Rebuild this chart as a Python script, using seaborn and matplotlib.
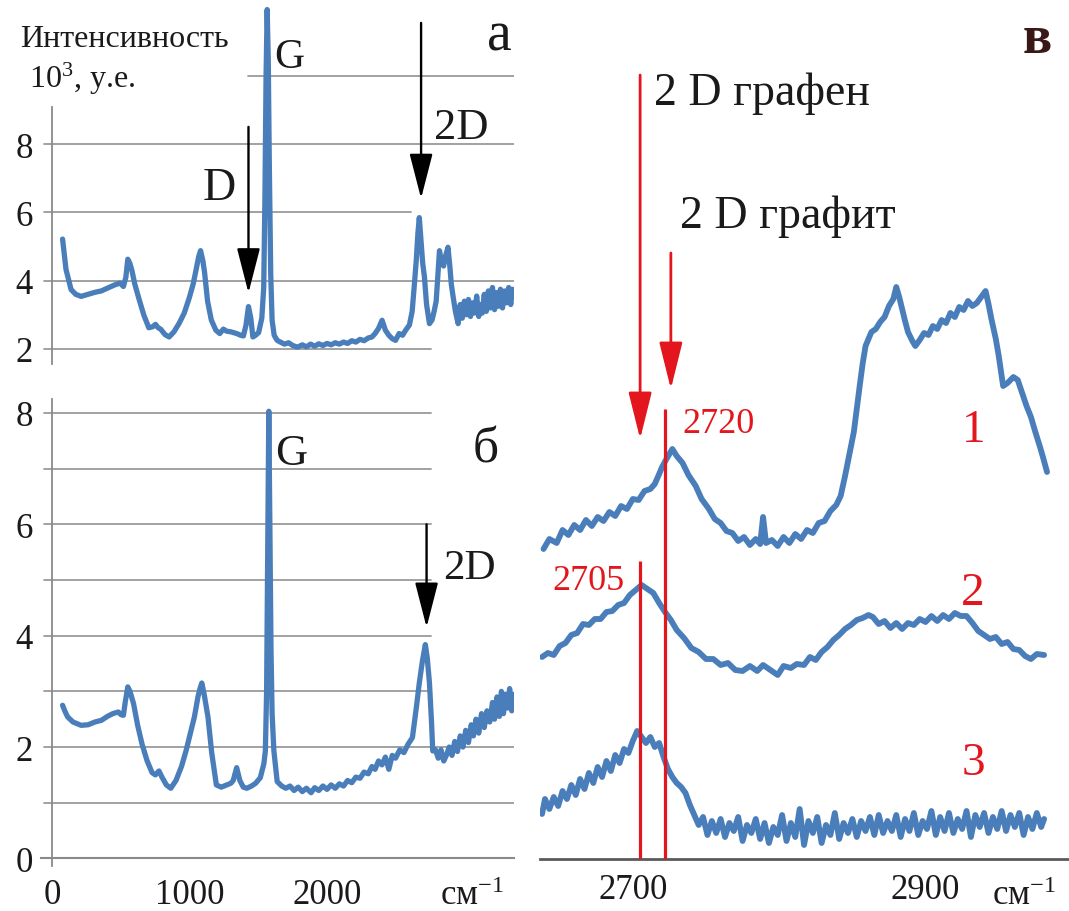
import matplotlib
matplotlib.use("Agg")
import matplotlib.pyplot as plt
import seaborn as sns
import pandas as pd

# ---------------- data ----------------
# panel a: Raman spectrum, wavenumber (cm-1) vs intensity (10^3 a.u.)
a_x = [74, 99, 136, 170, 209, 260, 310, 357, 400, 456, 493, 517, 535, 549, 565, 579, 600, 628, 665, 702,
       730, 751, 770, 788, 820, 850, 885, 923, 960, 997, 1025, 1047, 1065, 1079, 1095, 1108, 1130, 1157, 1190, 1219,
       1245, 1268, 1300, 1342, 1370, 1391, 1410, 1428, 1445, 1460, 1480, 1502, 1525, 1539, 1548, 1556, 1564, 1572, 1580, 1590,
       1600, 1615, 1637, 1660, 1690, 1720, 1750, 1785, 1820, 1850, 1880, 1910, 1940, 1970, 2000, 2030, 2060, 2090, 2120, 2150,
       2180, 2210, 2240, 2270, 2300, 2327, 2350, 2375, 2401, 2425, 2450, 2475, 2499, 2525, 2550, 2573, 2600, 2620, 2635, 2650,
       2662, 2672, 2684, 2697, 2709, 2725, 2746, 2765, 2780, 2795, 2808, 2819, 2834, 2849, 2865, 2881, 2895, 2905, 2918, 2935,
       2955, 2970, 2985, 3000, 3016, 3030, 3045, 3060, 3075, 3090, 3105, 3115, 3130, 3145, 3160, 3175, 3189, 3205, 3220, 3235,
       3250, 3263, 3278, 3293, 3308, 3323, 3338, 3350, 3361]
a_y = [5.22, 4.33, 3.74, 3.60, 3.54, 3.60, 3.66, 3.70, 3.78, 3.88, 3.93, 3.83, 4.10, 4.63, 4.50, 4.30, 3.90, 3.50, 3.00, 2.62,
       2.65, 2.72, 2.62, 2.58, 2.42, 2.35, 2.50, 2.75, 3.05, 3.50, 3.90, 4.33, 4.70, 4.88, 4.60, 4.25, 3.40, 2.85, 2.55, 2.45,
       2.58, 2.52, 2.50, 2.45, 2.40, 2.38, 2.70, 3.24, 2.90, 2.35, 2.40, 2.48, 2.90, 3.80, 6.50, 10.0, 11.95, 10.5, 7.30, 4.20,
       2.84, 2.40, 2.25, 2.20, 2.14, 2.18, 2.10, 2.05, 2.12, 2.06, 2.14, 2.08, 2.15, 2.10, 2.16, 2.12, 2.18, 2.14, 2.20, 2.16,
       2.24, 2.20, 2.28, 2.24, 2.32, 2.35, 2.45, 2.60, 2.84, 2.55, 2.40, 2.30, 2.25, 2.45, 2.40, 2.55, 2.70, 3.10, 3.83, 4.60,
       5.40, 5.85, 5.20, 4.50, 4.13, 3.30, 2.74, 2.85, 3.10, 3.40, 4.20, 4.88, 4.55, 4.43, 4.75, 4.98, 4.40, 3.90, 3.54, 3.10,
       2.74, 3.30, 2.90, 3.40, 3.00, 3.45, 2.95, 3.35, 3.05, 3.55, 2.95, 3.30, 3.05, 3.60, 3.10, 3.70, 3.20, 3.80, 3.15, 3.65,
       3.25, 3.75, 3.20, 3.70, 3.35, 3.80, 3.30, 3.75, 3.55]

# panel b: second spectrum
b_x = [74, 90, 111, 150, 209, 260, 310, 357, 400, 440, 480, 500, 517, 530, 549, 565, 591, 620, 653, 690,
       726, 750, 776, 800, 830, 862, 900, 940, 973, 1005, 1034, 1060, 1075, 1088, 1105, 1133, 1160, 1194, 1230, 1270,
       1300, 1317, 1342, 1365, 1390, 1416, 1450, 1480, 1514, 1540, 1551, 1560, 1568, 1576, 1584, 1592, 1600, 1613, 1637, 1670,
       1700, 1730, 1760, 1790, 1820, 1850, 1884, 1910, 1940, 1970, 2000, 2030, 2060, 2090, 2120, 2150, 2180, 2210, 2240, 2270,
       2300, 2327, 2350, 2375, 2400, 2425, 2450, 2475, 2499, 2530, 2560, 2590, 2622, 2650, 2672, 2695, 2716, 2730, 2746, 2760,
       2770, 2790, 2810, 2830, 2850, 2869, 2890, 2910, 2930, 2950, 2970, 2990, 3010, 3030, 3050, 3066, 3085, 3105, 3125, 3145,
       3165, 3185, 3205, 3220, 3238, 3255, 3270, 3285, 3300, 3315, 3330, 3345, 3361]
b_y = [2.75, 2.65, 2.54, 2.45, 2.39, 2.40, 2.45, 2.48, 2.55, 2.60, 2.63, 2.58, 2.57, 2.80, 3.08, 3.00, 2.78, 2.40, 2.05, 1.75,
       1.54, 1.50, 1.57, 1.45, 1.32, 1.26, 1.40, 1.65, 1.93, 2.25, 2.54, 2.90, 3.05, 3.15, 2.95, 2.54, 1.90, 1.32, 1.28, 1.32,
       1.35, 1.40, 1.63, 1.40, 1.28, 1.26, 1.30, 1.35, 1.45, 1.70, 1.93, 3.00, 5.50, 8.03, 5.80, 3.75, 2.60, 1.93, 1.38, 1.30,
       1.26, 1.30, 1.22, 1.28, 1.20, 1.26, 1.18, 1.27, 1.22, 1.30, 1.24, 1.32, 1.26, 1.34, 1.30, 1.40, 1.36, 1.46, 1.44, 1.55,
       1.52, 1.65, 1.60, 1.75, 1.68, 1.82, 1.60, 1.85, 1.80, 1.95, 1.90, 2.05, 2.17, 2.70, 3.15, 3.55, 3.84, 3.60, 3.15, 2.50,
       1.93, 1.95, 1.80, 1.95, 1.75, 1.85, 2.00, 1.85, 2.10, 1.92, 2.20, 2.00, 2.30, 2.08, 2.40, 2.20, 2.50, 2.25, 2.60, 2.35,
       2.65, 2.45, 2.80, 2.50, 2.90, 2.55, 3.00, 2.60, 2.95, 2.70, 3.05, 2.65, 2.95]

# panel v: 2D region, three offset spectra (arbitrary units)
c1_x = [2639, 2643, 2648, 2652, 2656, 2660, 2664, 2668, 2672, 2676, 2680, 2684, 2688, 2692, 2696, 2700, 2704, 2708, 2712, 2715,
        2718, 2720, 2723, 2727, 2730, 2734, 2738, 2743, 2747, 2752, 2756, 2760, 2764, 2768, 2772, 2776, 2780, 2784, 2787, 2789,
        2791, 2795, 2799, 2803, 2807, 2811, 2815, 2819, 2823, 2827, 2831, 2835, 2839, 2842, 2845, 2848, 2851, 2853, 2855, 2857,
        2859, 2861, 2863, 2866, 2869, 2872, 2875, 2878, 2880, 2882, 2884, 2886, 2888, 2891, 2893, 2896, 2899, 2902, 2905, 2908,
        2911, 2914, 2917, 2920, 2923, 2926, 2929, 2932, 2935, 2938, 2941, 2943, 2945, 2948, 2950, 2953, 2956, 2960, 2963, 2966,
        2969, 2972, 2975, 2978, 2980, 2983]
c1_y = [31.0, 32.0, 31.6, 32.9, 32.4, 33.4, 32.9, 33.9, 33.3, 34.2, 33.8, 34.7, 34.3, 35.3, 35.0, 36.0, 35.9, 36.8, 37.0, 37.5,
        38.5, 39.2, 40.0, 41.0, 40.3, 39.6, 38.4, 37.3, 36.0, 35.0, 34.0, 33.6, 32.8, 32.6, 31.8, 32.2, 31.4, 32.0, 31.5, 34.2,
        31.6, 31.9, 31.3, 32.2, 31.6, 32.5, 32.0, 32.9, 32.6, 33.6, 33.8, 34.8, 35.4, 36.3, 38.3, 40.5, 42.7, 45.0, 47.3, 49.5,
        51.3, 52.0, 52.7, 53.0, 53.7, 54.2, 55.3, 56.0, 57.2, 56.2, 55.0, 53.8, 52.7, 51.8, 51.3, 51.9, 52.6, 52.4, 53.3, 53.0,
        53.9, 53.6, 54.6, 54.2, 55.2, 54.9, 55.8, 55.3, 55.6, 56.2, 56.8, 55.5, 54.0, 52.0, 50.3, 47.3, 47.6, 48.2, 47.9, 46.6,
        45.3, 44.2, 42.7, 41.3, 40.3, 38.7]

c2_x = [2638, 2642, 2646, 2650, 2654, 2658, 2662, 2666, 2670, 2674, 2678, 2682, 2686, 2690, 2694, 2698, 2702, 2706, 2710, 2714,
        2718, 2722, 2726, 2730, 2735, 2740, 2745, 2750, 2755, 2760, 2765, 2770, 2775, 2780, 2785, 2789, 2794, 2799, 2803, 2808,
        2812, 2817, 2821, 2825, 2829, 2833, 2837, 2841, 2845, 2849, 2853, 2857, 2861, 2864, 2868, 2872, 2876, 2880, 2884, 2888,
        2892, 2896, 2900, 2904, 2908, 2912, 2916, 2920, 2924, 2928, 2932, 2936, 2940, 2944, 2948, 2952, 2956, 2960, 2964, 2968,
        2972, 2976, 2981]
c2_y = [20.2, 20.6, 20.4, 21.3, 21.6, 22.4, 22.6, 23.5, 23.4, 24.0, 24.0, 24.7, 24.8, 25.4, 25.6, 26.4, 26.9, 27.4, 27.0, 26.6,
        25.6, 24.7, 23.9, 22.9, 22.1, 21.1, 20.7, 20.0, 20.0, 19.4, 19.6, 18.9, 18.8, 19.3, 18.8, 19.4, 18.9, 18.4, 19.3, 19.1,
        19.5, 19.4, 20.2, 19.9, 20.7, 21.2, 21.9, 22.4, 23.0, 23.4, 23.9, 24.1, 24.4, 24.2, 23.5, 23.8, 23.1, 23.6, 23.0, 23.6,
        23.4, 24.0, 23.7, 24.3, 23.8, 24.4, 24.0, 24.6, 24.3, 24.3, 23.6, 22.8, 22.4, 22.0, 22.2, 21.5, 21.7, 21.0, 20.9, 20.3,
        20.0, 20.5, 20.4]

c3_x = [2638, 2640, 2643, 2646, 2649, 2652, 2655, 2658, 2661, 2664, 2667, 2670, 2673, 2676, 2679, 2682, 2685, 2688, 2691, 2694,
        2697, 2700, 2703, 2706, 2709, 2712, 2715, 2718, 2721, 2724, 2727, 2730, 2733, 2736, 2739, 2742, 2745, 2748, 2751, 2754,
        2757, 2760, 2763, 2766, 2769, 2772, 2775, 2778, 2781, 2784, 2787, 2790, 2793, 2796, 2799, 2802, 2805, 2808, 2811, 2814,
        2817, 2820, 2823, 2826, 2829, 2832, 2835, 2838, 2841, 2844, 2847, 2850, 2853, 2856, 2859, 2862, 2865, 2868, 2871, 2874,
        2877, 2880, 2883, 2886, 2889, 2892, 2895, 2898, 2901, 2904, 2907, 2910, 2913, 2916, 2919, 2922, 2925, 2928, 2931, 2934,
        2937, 2940, 2943, 2946, 2949, 2952, 2955, 2958, 2961, 2964, 2967, 2970, 2973, 2976, 2979, 2981]
c3_y = [4.5, 6.0, 5.0, 6.2, 5.3, 6.8, 6.0, 7.4, 6.4, 8.0, 7.0, 8.6, 7.6, 9.2, 8.2, 9.8, 8.8, 10.4, 9.6, 11.0,
        10.6, 11.8, 12.8, 12.2, 11.6, 12.2, 11.2, 11.6, 10.2, 9.0, 8.2, 7.6, 7.2, 6.6, 5.4, 4.4, 3.4, 4.2, 2.4, 3.8,
        2.6, 4.0, 2.2, 3.6, 2.8, 4.2, 1.8, 3.4, 2.6, 4.0, 2.0, 3.6, 1.6, 3.2, 2.4, 4.4, 1.8, 3.6, 2.2, 5.0,
        1.4, 3.8, 2.6, 4.2, 1.6, 3.4, 2.4, 4.6, 2.0, 3.6, 2.6, 4.0, 2.2, 3.8, 2.8, 4.2, 2.4, 4.4, 2.6, 3.8,
        2.8, 4.4, 2.2, 4.0, 2.8, 4.6, 2.4, 3.8, 3.0, 4.8, 2.4, 4.2, 2.8, 4.6, 2.6, 4.0, 3.0, 4.8, 2.2, 4.4,
        3.2, 4.6, 2.6, 4.2, 3.0, 4.8, 2.8, 4.4, 3.2, 4.6, 2.4, 4.2, 3.0, 4.6, 3.2, 4.0]

# annotations (data coordinates of each panel)
a_arrow_x = [1428, 2685]          # D and 2D arrows, panel a
a_arrow_from = [8.51, 11.56]
a_arrow_to = [3.64, 6.41]
b_arrow_x = [2725]                # 2D arrow, panel b
b_arrow_from = [6.0]
b_arrow_to = [4.15]
c_arrow_x = [2705, 2726]          # 2D graphene / 2D graphite arrows
c_arrow_from = [78.4, 60.6]
c_arrow_to = [42.0, 47.0]
c_line_x = [2705, 2722]           # peak position markers
c_line_top = [29.8, 45.0]
c_line_labels = ["2705", "2720"]

a_yticks = [2, 4, 6, 8]
a_grid = [2, 4, 6, 8, 10]
b_yticks = [0, 2, 4, 6, 8]
b_grid = [1, 2, 3, 4, 5, 6, 7, 8]
b_xticks = [0, 1000, 2000, 3000]
b_xticklabels = ["0", "1000", "2000", ""]
c_xticks = [2700, 2900]
c_xticklabels = ["2700", "2900"]

# ---------------- style ----------------
sns.set_style("white")
plt.rcParams['font.family'] = ['Liberation Serif', 'DejaVu Serif']
plt.rcParams['mathtext.fontset'] = 'custom'
plt.rcParams['mathtext.rm'] = 'Liberation Serif'
plt.rcParams['mathtext.it'] = 'Liberation Serif:italic'
plt.rcParams['mathtext.bf'] = 'Liberation Serif:bold'

BLUE = '#4a7ebb'
RED = '#e3161e'
GRID = '#9a9a9a'
TXT = '#1a1a1a'

W, H = 1069, 912
fig = plt.figure(figsize=(W / 100, H / 100), dpi=100)


def box(l, t, r, b):
    return [l / W, 1 - b / H, (r - l) / W, (b - t) / H]


ax_a = fig.add_axes(box(40.6, 0, 513.9, 365))
ax_b = fig.add_axes(box(40.6, 395, 513.9, 870))
ax_c = fig.add_axes(box(540, 0, 1069, 860))
for ax in (ax_a, ax_b, ax_c):
    ax.patch.set_alpha(0)

ARROW = '-|>,head_length=2.8,head_width=0.72'

# ---------------- panel a ----------------
ax = ax_a
ax.set_xlim(-86, 3361)
ax.set_ylim(1.557, 12.26)
extent_a = {2: (0.007, 0.825), 4: (0.007, 1.0), 6: (0.007, 0.783), 8: (0.007, 1.0), 10: (0.439, 1.0)}
for g in a_grid:
    ax.axhline(g, *extent_a[g], color=GRID, lw=1.3, zorder=1)
sns.lineplot(x=a_x, y=a_y, ax=ax, color=BLUE, lw=3.8, estimator=None, sort=False, zorder=3)
for s in ('top', 'right', 'bottom'):
    ax.spines[s].set_visible(False)
ax.spines['left'].set_color('#8a8a8a')
ax.spines['left'].set_linewidth(1.3)
ax.spines['left'].set_bounds(1.56, 9.09)
ax.spines['left'].set_position(('data', 0))
ax.set_xticks([])
ax.set_yticks(a_yticks)
ax.tick_params(axis='y', length=0, pad=14, labelsize=25, labelcolor=TXT)
ax.set_xlabel('')
ax.set_ylabel('')
for x, y0, y1 in zip(a_arrow_x, a_arrow_from, a_arrow_to):
    ax.annotate('', xy=(x, y1), xytext=(x, y0),
                arrowprops=dict(arrowstyle=ARROW, color='black',
                                lw=1.7, shrinkA=0, shrinkB=0, mutation_scale=10), zorder=4)
ax.text(-236, 10.88, "Интенсивность", fontsize=23, color=TXT, va='baseline', ha='left')
ax.text(-170, 9.68, "10$^{3}$, у.е.", fontsize=23, color=TXT, va='baseline', ha='left')
ax.text(1614, 10.27, "G", fontsize=30, color=TXT, va='baseline', ha='left')
ax.text(3165, 10.77, "а", fontsize=40, color=TXT, va='baseline', ha='left')
ax.text(1097, 6.40, "D", fontsize=33, color=TXT, va='baseline', ha='left')
ax.text(2779, 8.18, "2D", fontsize=32, color=TXT, va='baseline', ha='left')

# ---------------- panel b ----------------
ax = ax_b
ax.set_xlim(-86, 3361)
ax.set_ylim(-0.19, 8.34)
for g in b_grid:
    ax.axhline(g, 0.007, 1.0 if g <= 2 else 0.825, color=GRID, lw=1.3, zorder=1)
sns.lineplot(x=b_x, y=b_y, ax=ax, color=BLUE, lw=3.8, estimator=None, sort=False, zorder=3)
for s in ('top', 'right'):
    ax.spines[s].set_visible(False)
ax.spines['left'].set_color('#8a8a8a')
ax.spines['left'].set_linewidth(1.3)
ax.spines['left'].set_bounds(-0.14, 8.25)
ax.spines['left'].set_position(('data', 0))
ax.spines['bottom'].set_color('#8a8a8a')
ax.spines['bottom'].set_linewidth(1.5)
ax.spines['bottom'].set_position(('data', 0))
ax.set_yticks(b_yticks)
ax.set_xticks(b_xticks)
ax.set_xticklabels(b_xticklabels)
ax.tick_params(axis='y', length=0, pad=14, labelsize=25, labelcolor=TXT)
ax.tick_params(axis='x', length=5, width=1.2, color='#8a8a8a', pad=9, labelsize=25, labelcolor=TXT)
ax.set_xlabel('')
ax.set_ylabel('')
for x, y0, y1 in zip(b_arrow_x, b_arrow_from, b_arrow_to):
    ax.annotate('', xy=(x, y1), xytext=(x, y0),
                arrowprops=dict(arrowstyle=ARROW, color='black',
                                lw=1.7, shrinkA=0, shrinkB=0, mutation_scale=10), zorder=4)
ax.text(1621, 7.08, "G", fontsize=32, color=TXT, va='baseline', ha='left')
ax.text(3063, 7.12, "б", fontsize=37, color=TXT, va='baseline', ha='left')
ax.text(2845, 5.03, "2D", fontsize=31, color=TXT, va='baseline', ha='left')
ax.text(2823, -0.82, "см$^{-1}$", fontsize=25, color=TXT, va='baseline', ha='left')

# ---------------- panel v ----------------
ax = ax_c
ax.set_xlim(2636.6, 2998)
ax.set_ylim(0, 86)
for xs, ys in ((c1_x, c1_y), (c2_x, c2_y), (c3_x, c3_y)):
    sns.lineplot(x=xs, y=ys, ax=ax, color=BLUE, lw=4.2, estimator=None, sort=False, zorder=3)
ax.vlines(c_line_x, 0, c_line_top, color=RED, lw=2.3, zorder=4)
for x, y0, y1 in zip(c_arrow_x, c_arrow_from, c_arrow_to):
    ax.annotate('', xy=(x, y1), xytext=(x, y0),
                arrowprops=dict(arrowstyle='-|>,head_length=2.9,head_width=0.72', color=RED,
                                lw=2.0, shrinkA=0, shrinkB=0, mutation_scale=10), zorder=4)
for s in ('top', 'right', 'left'):
    ax.spines[s].set_visible(False)
ax.spines['bottom'].set_color('#5a5a5a')
ax.spines['bottom'].set_linewidth(2.0)
ax.set_yticks([])
ax.set_xticks(c_xticks)
ax.set_xticklabels(c_xticklabels)
ax.tick_params(axis='x', direction='inout', length=12, width=1.5, color='#333333', pad=4,
               labelsize=25, labelcolor=TXT)
ax.set_xlabel('')
ax.set_ylabel('')
ax.text(2734, 42.7, c_line_labels[1], fontsize=26, color=RED, va='baseline', ha='left')
ax.text(2645, 27.0, c_line_labels[0], fontsize=26, color=RED, va='baseline', ha='left')
ax.text(2933, 41.8, "1", fontsize=34, color=RED, va='baseline', ha='center')
ax.text(2932.5, 25.5, "2", fontsize=34, color=RED, va='baseline', ha='center')
ax.text(2932.5, 8.5, "3", fontsize=34, color=RED, va='baseline', ha='center')
ax.text(2714.7, 75.5, "2 D графен", fontsize=33, color=TXT, va='baseline', ha='left')
ax.text(2732.5, 63.2, "2 D графит", fontsize=33, color=TXT, va='baseline', ha='left')
ax.text(2966, 80.7, "в", fontsize=39, fontweight='bold', color='#3a1818', va='baseline', ha='left')
ax.text(2945.5, -4.5, "см$^{-1}$", fontsize=25, color=TXT, va='baseline', ha='left', clip_on=False)

fig.savefig("out.png", dpi=100)
